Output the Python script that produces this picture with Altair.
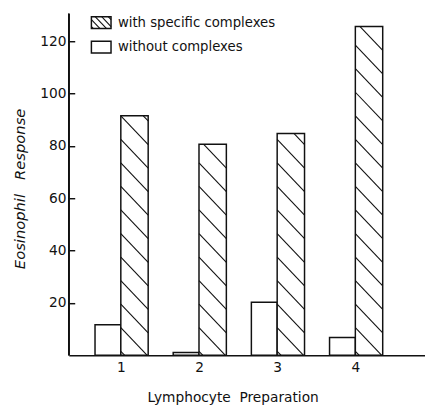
import altair as alt
import pandas as pd

# ---- data ----
preparations = [1, 2, 3, 4]
without_complexes = [11.6, 1.0, 20.2, 6.8]
with_complexes = [91.5, 80.6, 84.7, 125.6]
series_labels = ["with specific complexes", "without complexes"]
y_tick_values = [20, 40, 60, 80, 100, 120]
x_tick_values = [1, 2, 3, 4]

# ---- layout constants ----
W, H = 363, 348
XMIN, XMAX = 0.335, 4.891
YMAX = 130.5
PXX = W / (XMAX - XMIN)
PXY = H / YMAX
BW_WHITE = 0.33
BW_HATCH = 0.35
INK = "#111111"
FONT = "DejaVu Sans"


def hatch_segments(w, h, spacing, slope, phase):
    """Clipped '\\' hatch lines inside a w x h box (pixels, y upward)."""
    segs = []
    c = phase
    while c < h + slope * w + spacing:
        xs = max(0.0, (c - h) / slope)
        xe = min(w, c / slope)
        if xe - xs > 0.5:
            segs.append((xs, c - slope * xs, xe, c - slope * xe))
        c += spacing
    return segs


# hatch lines for the hatched bars, converted to data units
rows = []
for p, v in zip(preparations, with_complexes):
    for xs, ys, xe, ye in hatch_segments(BW_HATCH * PXX, v * PXY, 24, 1.05, 4):
        rows.append({"hx0": p + xs / PXX, "hy0": ys / PXY,
                     "hx1": p + xe / PXX, "hy1": ye / PXY})
hatch_df = pd.DataFrame(rows)

base_white = pd.DataFrame({"prep": preparations, "value": without_complexes})
base_hatch = pd.DataFrame({"prep": preparations, "value": with_complexes})

xscale = alt.Scale(domain=[XMIN, XMAX], nice=False, zero=False)
yscale = alt.Scale(domain=[0, YMAX], nice=False)

x_axis = alt.Axis(values=x_tick_values, format="d", ticks=False, domainColor=INK,
                  domainWidth=1.5, labelFont=FONT, labelFontSize=14, labelColor=INK,
                  labelPadding=6,
                  title="Lymphocyte\u00a0\u00a0Preparation", titleFont=FONT,
                  titleFontSize=14, titleFontWeight="normal", titleColor=INK,
                  titleX=167, titleY=43, titleAnchor="middle", titleBaseline="middle",
                  grid=False)
y_axis = alt.Axis(values=y_tick_values, domain=False, tickColor=INK, tickWidth=1.5,
                  tickSize=6, offset=-6, labelFont=FONT, labelFontSize=14,
                  labelColor=INK, labelPadding=3,
                  title="Eosinophil\u00a0\u00a0\u00a0Response", titleFont=FONT,
                  titleFontSize=15, titleFontStyle="italic", titleFontWeight="normal",
                  titleColor=INK, titleX=-56, titleY=178, titleAngle=-90,
                  titleAnchor="middle", titleBaseline="middle", titleAlign="center",
                  grid=False)

white_bars = alt.Chart(base_white).transform_calculate(
    x0=f"datum.prep - {BW_WHITE}", x1="datum.prep"
).mark_rect(fill="white", stroke=INK, strokeWidth=1.5).encode(
    x=alt.X("x0:Q", scale=xscale, axis=x_axis),
    x2="x1:Q",
    y=alt.Y("value:Q", scale=yscale, axis=y_axis),
    y2=alt.datum(0),
)

hatch_bars = alt.Chart(base_hatch).transform_calculate(
    x0="datum.prep", x1=f"datum.prep + {BW_HATCH}"
).mark_rect(fill="white", stroke=INK, strokeWidth=1.5).encode(
    x=alt.X("x0:Q", scale=xscale),
    x2="x1:Q",
    y=alt.Y("value:Q", scale=yscale),
    y2=alt.datum(0),
)

hatch_lines = alt.Chart(hatch_df).mark_rule(color=INK, strokeWidth=1.1).encode(
    x=alt.X("hx0:Q", scale=xscale),
    x2="hx1:Q",
    y=alt.Y("hy0:Q", scale=yscale),
    y2="hy1:Q",
)

y_domain = alt.Chart(base_white).mark_rule(color=INK, strokeWidth=1.5).encode(
    x=alt.value(0), y=alt.value(0), y2=alt.value(H)
)

# ---- manual legend (pixel positions in plot area) ----
SW_X0, SW_X1 = 23, 43
leg_rects = pd.DataFrame({"lx0": [SW_X0, SW_X0], "lx1": [SW_X1, SW_X1],
                          "ly0": [3, 28], "ly1": [15, 40]})
leg_text = pd.DataFrame({"label": series_labels, "tx": [50, 50], "ty": [9, 34]})
sw_rows = []
for xs, ys, xe, ye in hatch_segments(SW_X1 - SW_X0, 12, 7, 1.05, 2):
    sw_rows.append({"sx0": SW_X0 + xs, "sy0": 15 - ys, "sx1": SW_X0 + xe, "sy1": 15 - ye})
sw_df = pd.DataFrame(sw_rows)

legend_boxes = alt.Chart(leg_rects).mark_rect(fill="white", stroke=INK, strokeWidth=1.5).encode(
    x=alt.X("lx0:Q", scale=None, axis=None), x2="lx1:Q",
    y=alt.Y("ly0:Q", scale=None, axis=None), y2="ly1:Q",
)
legend_hatch = alt.Chart(sw_df).mark_rule(color=INK, strokeWidth=1.1).encode(
    x=alt.X("sx0:Q", scale=None, axis=None), x2="sx1:Q",
    y=alt.Y("sy0:Q", scale=None, axis=None), y2="sy1:Q",
)
legend_labels = alt.Chart(leg_text).mark_text(
    align="left", baseline="middle", font=FONT, fontSize=13.5, color=INK
).encode(
    x=alt.X("tx:Q", scale=None, axis=None),
    y=alt.Y("ty:Q", scale=None, axis=None),
    text="label:N",
)

chart = alt.layer(
    white_bars, hatch_bars, hatch_lines, y_domain,
    legend_boxes, legend_hatch, legend_labels,
).properties(
    width=W, height=H,
    autosize=alt.AutoSizeParams(type="none"),
    padding={"left": 62, "top": 2, "right": 0, "bottom": 53},
    background="white",
).configure_view(stroke=None)

chart.save("out.html", embed_options={"renderer": "svg", "actions": False})
